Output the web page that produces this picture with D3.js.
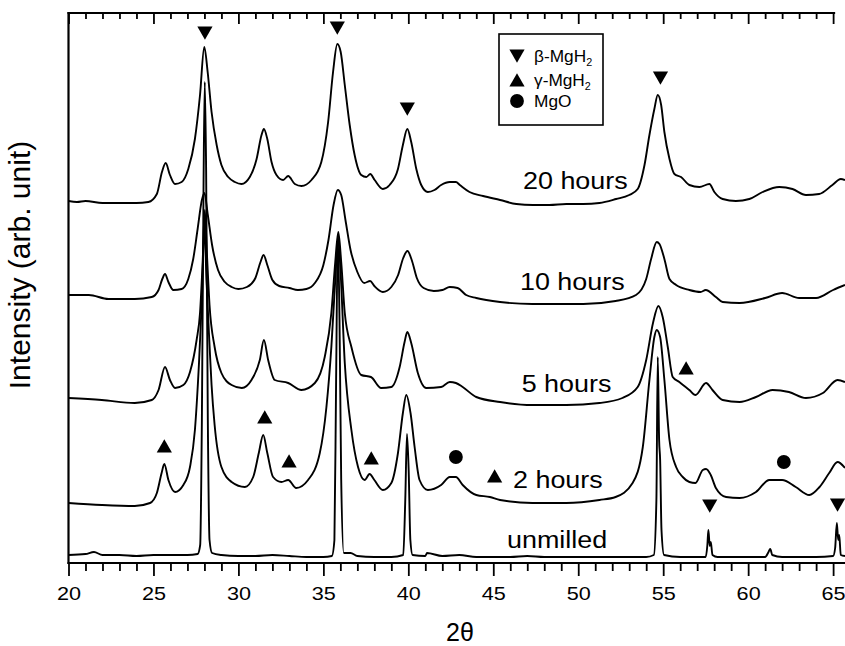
<!DOCTYPE html>
<html>
<head>
<meta charset="utf-8">
<script src="https://cdn.jsdelivr.net/npm/d3@7"></script>
<style>
  body { margin: 0; background: #fff; }
  text { font-family: Arial, "Liberation Sans", Helvetica, sans-serif; fill: #000; }
</style>
</head>
<body>
<svg id="chart" width="845" height="646"></svg>
<script>
// XRD patterns, [2theta, intensity (arb.)], stacked offsets included
const h20 = [[20.0,362],[20.5,361],[21.0,362],[22.0,360],[23.0,360],[24.0,360],[24.7,361],[25.2,369],[25.5,391],[25.72,400],[25.97,388],[26.27,379],[26.66,381],[27.05,394],[27.44,424],[27.74,468],[27.99,516],[28.19,491],[28.42,451],[28.72,418],[29.0,398],[29.4,386],[29.79,381],[30.18,379],[30.67,386],[31.07,404],[31.36,428],[31.5,434],[31.7,424],[31.95,401],[32.24,388],[32.63,383],[32.93,387],[33.32,379],[33.71,377],[34.3,383],[34.88,401],[35.28,441],[35.57,491],[35.82,519],[36.02,511],[36.26,478],[36.55,438],[36.84,408],[37.23,388],[37.53,386],[37.76,389],[38.02,383],[38.5,374],[38.9,378],[39.39,394],[39.68,418],[39.94,434],[40.17,421],[40.47,394],[40.76,378],[41.15,371],[41.54,373],[41.93,378],[42.44,381],[42.8,381],[43.03,378],[43.6,371],[44.4,367],[45.4,363],[46.36,359],[47.33,358],[48.3,358],[49.3,359],[50.3,359],[51.25,360],[52.23,364],[53.0,368],[53.5,374],[53.9,398],[54.19,428],[54.48,454],[54.68,468],[54.88,458],[55.07,431],[55.37,404],[55.66,389],[56.05,386],[56.54,378],[57.13,376],[57.72,379],[58.01,371],[58.5,364],[59.28,362],[60.07,364],[60.85,371],[61.83,376],[62.61,374],[63.4,368],[64.18,369],[64.96,378],[65.45,384],[65.7,383]];

const h10 = [[20.0,268],[21.2,268],[22.35,264],[23.9,264],[24.9,266],[25.3,273],[25.52,284],[25.68,289],[25.88,281],[26.17,273],[26.66,274],[27.05,284],[27.34,304],[27.6,334],[27.85,363],[28.0,370],[28.2,348],[28.45,318],[28.8,293],[29.2,281],[29.6,276],[30.0,274],[30.5,276],[31.0,285],[31.3,301],[31.48,308],[31.7,298],[32.0,283],[32.4,277],[33.0,275],[33.5,273],[34.0,274],[34.5,280],[35.0,298],[35.3,323],[35.6,358],[35.85,373],[36.05,368],[36.3,343],[36.6,313],[37.0,291],[37.4,280],[37.75,282],[38.0,277],[38.5,271],[39.0,276],[39.4,288],[39.7,305],[39.95,312],[40.2,303],[40.5,285],[40.9,275],[41.5,272],[42.0,273],[42.44,276],[42.9,275],[43.4,268],[44.0,265],[45.4,261],[47.3,259],[50.3,259],[52.2,262],[53.4,268],[54.0,284],[54.29,304],[54.62,321],[54.78,319],[55.07,304],[55.37,284],[55.76,278],[56.54,273],[57.2,271],[57.5,273],[58.1,266],[58.5,261],[59.5,260],[61.0,265],[62.0,270],[63.0,265],[64.0,265],[65.0,273],[65.7,278]];

const h5 = [[20.0,165],[21.96,163],[23.9,160],[24.9,163],[25.3,173],[25.68,196],[25.97,183],[26.27,175],[26.76,178],[27.15,191],[27.54,223],[27.74,250],[27.9,303],[28.02,353],[28.15,308],[28.3,258],[28.6,216],[29.0,190],[29.6,178],[30.2,175],[30.77,183],[31.26,203],[31.5,223],[31.75,203],[32.14,183],[32.93,180],[33.71,173],[34.5,180],[35.08,206],[35.47,250],[35.7,301],[35.88,331],[36.05,301],[36.26,250],[36.65,216],[37.23,188],[37.8,186],[38.4,175],[39.0,176],[39.49,196],[39.78,221],[39.94,231],[40.17,220],[40.56,190],[41.05,175],[41.93,176],[42.44,181],[42.8,180],[43.2,176],[44.0,166],[45.4,161],[47.3,158],[49.3,158],[51.25,160],[52.6,165],[53.5,176],[54.0,203],[54.4,240],[54.72,257],[54.97,246],[55.27,216],[55.56,186],[55.95,181],[56.54,173],[56.9,168],[57.52,180],[57.9,173],[58.5,163],[59.5,161],[60.46,166],[61.44,173],[62.4,171],[63.4,165],[64.4,170],[65.26,183],[65.7,181]];

const h2 = [[20.0,60],[21.96,58],[23.9,57],[24.8,60],[25.2,70],[25.48,90],[25.64,99],[25.88,83],[26.27,71],[26.76,78],[27.15,96],[27.44,133],[27.68,200],[27.85,263],[28.0,338],[28.12,283],[28.3,218],[28.42,178],[28.6,138],[29.0,96],[29.6,81],[30.38,76],[30.87,86],[31.2,110],[31.46,128],[31.7,110],[32.04,86],[32.53,81],[32.93,83],[33.4,75],[34.1,83],[34.79,110],[35.18,156],[35.47,216],[35.7,283],[35.87,325],[36.0,295],[36.26,200],[36.65,133],[37.04,96],[37.43,83],[37.72,89],[38.0,83],[38.5,73],[39.0,80],[39.39,110],[39.68,150],[39.88,168],[40.13,150],[40.37,116],[40.66,83],[41.15,73],[41.93,78],[42.44,86],[42.8,86],[43.2,78],[44.0,68],[44.8,66],[45.4,63],[47.3,60],[49.3,60],[51.25,63],[52.2,66],[53.2,80],[53.8,116],[54.19,183],[54.48,226],[54.62,233],[54.82,226],[55.07,183],[55.37,123],[55.76,96],[56.15,86],[56.54,81],[56.9,80],[57.33,93],[57.52,94],[57.8,88],[58.1,75],[58.7,66],[59.5,65],[60.46,71],[61.24,83],[62.0,83],[62.8,76],[63.6,68],[64.2,76],[64.77,90],[65.26,101],[65.7,95]];

const unmilled = [[20.0,8],[21.0,9],[21.5,11],[22.0,8],[23.0,8],[24.0,7],[25.0,8],[26.0,8],[27.0,8],[27.6,9],[27.75,18],[27.85,143],[27.95,383],[28.02,481],[28.1,393],[28.2,143],[28.3,23],[28.45,10],[29.0,8],[30.0,7],[31.0,7],[32.0,8],[33.0,7],[34.0,6],[35.0,6],[35.5,7],[35.65,23],[35.75,183],[35.85,327],[35.95,243],[36.05,83],[36.2,10],[36.6,10],[37.0,7],[38.0,6],[39.0,6],[39.7,8],[39.82,63],[39.92,129],[40.02,93],[40.12,23],[40.25,8],[41.0,7],[41.1,10],[42.0,7],[43.0,8],[44.0,6],[45.0,6],[46.0,6],[47.0,7],[48.0,6],[49.0,6],[50.0,6],[51.0,6],[52.0,6],[53.0,6],[54.0,6],[54.45,8],[54.6,63],[54.68,206],[54.76,123],[54.82,103],[54.9,33],[55.05,8],[56.0,6],[57.0,6],[57.5,6],[57.6,18],[57.66,33],[57.74,17],[57.8,21],[57.9,8],[58.2,6],[59.0,6],[60.0,6],[61.0,6],[61.2,11],[61.3,14],[61.42,8],[62.0,6],[63.0,6],[64.0,6],[65.0,7],[65.12,15],[65.22,40],[65.3,23],[65.36,28],[65.45,8],[65.7,7]];

const series = [h20, h10, h5, h2, unmilled];
const seriesLabels = ["20 hours", "10 hours", "5 hours", "2 hours", "unmilled"];
const labelAt = [[46.75,374],[46.57,273],[46.67,171],[46.16,75],[45.81,15]];

// phase markers [2theta, intensity]
const betaMarks  = [[28.03,532],[35.82,537],[39.94,456],[54.84,487],[57.74,59],[65.26,60]];
const gammaMarks = [[25.64,115],[31.55,144],[32.98,100],[37.82,103],[45.08,85],[56.35,193]];
const mgoMarks   = [[42.8,106],[62.1,101]];

const legendNames = ["β-MgH", "γ-MgH", "MgO"];
const legendSubs  = ["2", "2", ""];

const majorTicks = [20, 25, 30, 35, 40, 45, 50, 55, 60, 65];
const minorTicks = d3.range(21, 66).filter(v => v % 5 !== 0);

const svg = d3.select("#chart");
const x = d3.scaleLinear().domain([20, 65.7]).range([68.5, 845]);
const y = d3.scaleLinear().domain([0, 550]).range([563, 13]);
const topEnd = 65.12;
const sx = 1.17; // the figure's lettering is a little wide

svg.append("defs").append("clipPath").attr("id", "clip")
  .append("rect").attr("x", x(20)).attr("y", 0).attr("width", x(65.7) - x(20)).attr("height", y(0));

// curves
const line = d3.line().x(d => x(d[0])).y(d => y(d[1])).curve(d3.curveMonotoneX);
svg.append("g").attr("clip-path", "url(#clip)")
  .selectAll("path").data(series).enter().append("path")
  .attr("d", line)
  .attr("fill", "none").attr("stroke", "#000").attr("stroke-width", 1.9)
  .attr("stroke-linejoin", "round");

// bottom axis
const bottomAxis = svg.append("g").attr("transform", "translate(0," + y(0) + ")");
bottomAxis.append("g").call(d3.axisBottom(x).tickValues(majorTicks).tickSize(13).tickSizeOuter(0).tickPadding(11))
  .call(g => g.select(".domain").remove());
bottomAxis.append("g").call(d3.axisBottom(x).tickValues(minorTicks).tickSize(8).tickSizeOuter(0).tickFormat(""))
  .call(g => g.select(".domain").remove());
bottomAxis.selectAll("line").attr("stroke-width", 1.8);
bottomAxis.selectAll("text").style("font-size", "18.5px")
  .attr("transform", "scale(" + sx + ",1)");
bottomAxis.append("line").attr("x1", x(20) - 1).attr("x2", x(65.7)).attr("stroke", "#000").attr("stroke-width", 2.2);

// top axis, ticks pointing in
const topAxis = svg.append("g").attr("transform", "translate(0," + y(550) + ")");
topAxis.append("g").call(d3.axisBottom(x).tickValues(majorTicks).tickSize(11).tickSizeOuter(0).tickFormat(""))
  .call(g => g.select(".domain").remove());
topAxis.append("g").call(d3.axisBottom(x).tickValues(minorTicks).tickSize(6).tickSizeOuter(0).tickFormat(""))
  .call(g => g.select(".domain").remove());
topAxis.selectAll("line").attr("stroke-width", 1.8);
topAxis.append("line").attr("x1", x(20) - 1).attr("x2", x(topEnd)).attr("stroke", "#000").attr("stroke-width", 2.2);

// left axis
svg.append("line").attr("x1", x(20)).attr("x2", x(20)).attr("y1", y(550) - 1).attr("y2", y(0) + 1)
  .attr("stroke", "#000").attr("stroke-width", 2.2);

// axis titles
svg.append("text").attr("x", 460).attr("y", 641).attr("text-anchor", "middle")
  .style("font-size", "25px").text("2θ");
svg.append("text").attr("transform", "translate(30,265) rotate(-90)").attr("text-anchor", "middle")
  .style("font-size", "30px").text("Intensity (arb. unit)");

// curve labels
svg.selectAll(".clabel").data(seriesLabels).enter().append("text")
  .attr("class", "clabel")
  .attr("transform", (d, i) => "translate(" + x(labelAt[i][0]) + "," + y(labelAt[i][1]) + ") scale(" + sx + ",1)")
  .style("font-size", "23px").text(d => d);

// phase markers
const tri = d3.symbol().type(d3.symbolTriangle).size(100);
const dot = d3.symbol().type(d3.symbolCircle).size(150);
svg.selectAll(".beta").data(betaMarks).enter().append("path")
  .attr("d", tri).attr("transform", d => "translate(" + x(d[0]) + "," + y(d[1]) + ") rotate(180)");
svg.selectAll(".gamma").data(gammaMarks).enter().append("path")
  .attr("d", tri).attr("transform", d => "translate(" + x(d[0]) + "," + y(d[1]) + ")");
svg.selectAll(".mgo").data(mgoMarks).enter().append("path")
  .attr("d", dot).attr("transform", d => "translate(" + x(d[0]) + "," + y(d[1]) + ")");

// legend
const lg = svg.append("g").attr("transform", "translate(499,34)");
lg.append("rect").attr("width", 104).attr("height", 91)
  .attr("fill", "#fff").attr("stroke", "#000").attr("stroke-width", 1.6);
const rowY = [22, 46, 67];
const legendSym = [tri, tri, dot];
legendNames.forEach((name, i) => {
  lg.append("path").attr("d", legendSym[i])
    .attr("transform", "translate(18," + (rowY[i] + (i === 0 ? -2 : i === 1 ? 2 : 0)) + ")" + (i === 0 ? " rotate(180)" : ""));
  const t = lg.append("text").attr("transform", "translate(35," + (rowY[i] + 6) + ") scale(1.08,1)")
    .style("font-size", "16px").text(name);
  if (legendSubs[i]) t.append("tspan").attr("dy", 4).style("font-size", "10px").text(legendSubs[i]);
});
</script>
</body>
</html>
